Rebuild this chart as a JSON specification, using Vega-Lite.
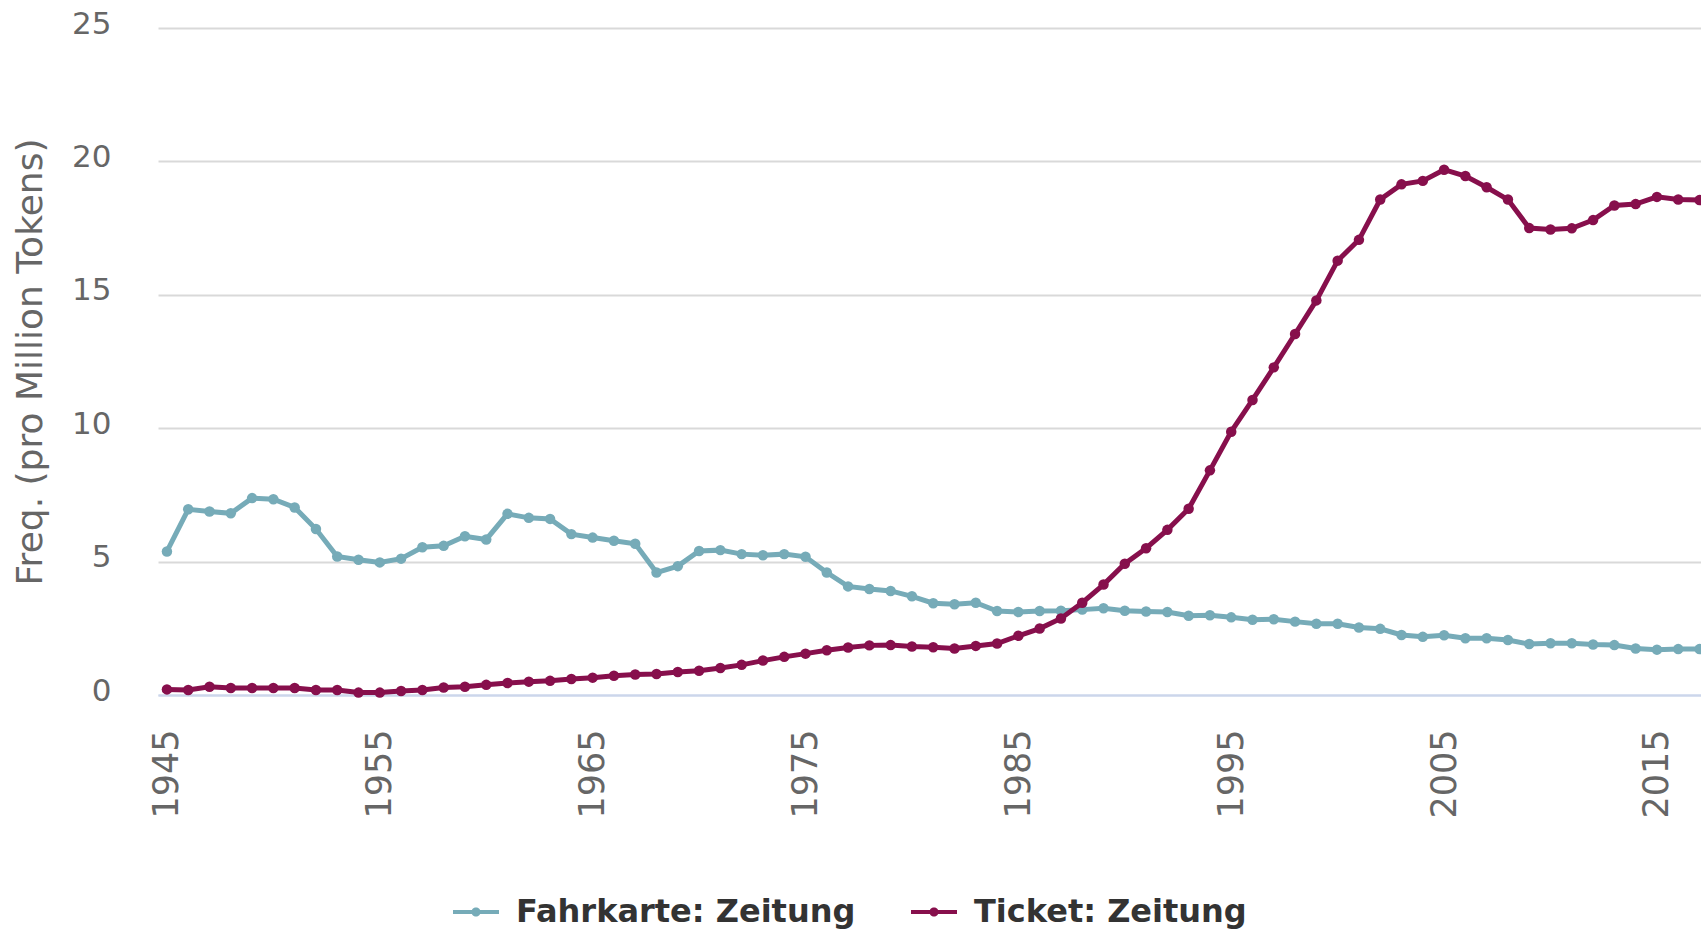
{
  "$schema": "https://vega.github.io/schema/vega-lite/v6.json",
  "width": 1543,
  "height": 667,
  "autosize": {"type": "none"},
  "padding": {"left": 158, "top": 28, "right": 0, "bottom": 236},
  "background": "white",
  "config": {"view": {"stroke": null}, "font": "DejaVu Sans"},
  "datasets": {
    "fahrkarte": [
      {"year":1945,"value":5.38},{"year":1946,"value":6.96},{"year":1947,"value":6.88},{"year":1948,"value":6.81},{"year":1949,"value":7.38},
      {"year":1950,"value":7.34},{"year":1951,"value":7.03},{"year":1952,"value":6.22},{"year":1953,"value":5.19},{"year":1954,"value":5.07},
      {"year":1955,"value":4.97},{"year":1956,"value":5.11},{"year":1957,"value":5.54},{"year":1958,"value":5.59},{"year":1959,"value":5.95},
      {"year":1960,"value":5.83},{"year":1961,"value":6.79},{"year":1962,"value":6.64},{"year":1963,"value":6.60},{"year":1964,"value":6.03},
      {"year":1965,"value":5.90},{"year":1966,"value":5.78},{"year":1967,"value":5.67},{"year":1968,"value":4.59},{"year":1969,"value":4.83},
      {"year":1970,"value":5.40},{"year":1971,"value":5.43},{"year":1972,"value":5.28},{"year":1973,"value":5.24},{"year":1974,"value":5.28},
      {"year":1975,"value":5.18},{"year":1976,"value":4.59},{"year":1977,"value":4.07},{"year":1978,"value":3.97},{"year":1979,"value":3.90},
      {"year":1980,"value":3.70},{"year":1981,"value":3.44},{"year":1982,"value":3.40},{"year":1983,"value":3.46},{"year":1984,"value":3.15},
      {"year":1985,"value":3.11},{"year":1986,"value":3.15},{"year":1987,"value":3.16},{"year":1988,"value":3.20},{"year":1989,"value":3.25},
      {"year":1990,"value":3.16},{"year":1991,"value":3.13},{"year":1992,"value":3.11},{"year":1993,"value":2.97},{"year":1994,"value":2.99},
      {"year":1995,"value":2.91},{"year":1996,"value":2.82},{"year":1997,"value":2.84},{"year":1998,"value":2.75},{"year":1999,"value":2.67},
      {"year":2000,"value":2.67},{"year":2001,"value":2.53},{"year":2002,"value":2.48},{"year":2003,"value":2.25},{"year":2004,"value":2.18},
      {"year":2005,"value":2.24},{"year":2006,"value":2.13},{"year":2007,"value":2.13},{"year":2008,"value":2.06},{"year":2009,"value":1.91},
      {"year":2010,"value":1.94},{"year":2011,"value":1.94},{"year":2012,"value":1.89},{"year":2013,"value":1.87},{"year":2014,"value":1.74},
      {"year":2015,"value":1.70},{"year":2016,"value":1.72},{"year":2017,"value":1.72}
    ],
    "ticket": [
      {"year":1945,"value":0.21},{"year":1946,"value":0.19},{"year":1947,"value":0.31},{"year":1948,"value":0.26},{"year":1949,"value":0.26},
      {"year":1950,"value":0.26},{"year":1951,"value":0.26},{"year":1952,"value":0.19},{"year":1953,"value":0.19},{"year":1954,"value":0.09},
      {"year":1955,"value":0.09},{"year":1956,"value":0.15},{"year":1957,"value":0.19},{"year":1958,"value":0.28},{"year":1959,"value":0.31},
      {"year":1960,"value":0.38},{"year":1961,"value":0.45},{"year":1962,"value":0.50},{"year":1963,"value":0.53},{"year":1964,"value":0.60},
      {"year":1965,"value":0.65},{"year":1966,"value":0.72},{"year":1967,"value":0.77},{"year":1968,"value":0.79},{"year":1969,"value":0.86},
      {"year":1970,"value":0.91},{"year":1971,"value":1.01},{"year":1972,"value":1.13},{"year":1973,"value":1.29},{"year":1974,"value":1.43},
      {"year":1975,"value":1.55},{"year":1976,"value":1.68},{"year":1977,"value":1.78},{"year":1978,"value":1.86},{"year":1979,"value":1.87},
      {"year":1980,"value":1.82},{"year":1981,"value":1.79},{"year":1982,"value":1.74},{"year":1983,"value":1.84},{"year":1984,"value":1.93},
      {"year":1985,"value":2.22},{"year":1986,"value":2.49},{"year":1987,"value":2.87},{"year":1988,"value":3.46},{"year":1989,"value":4.14},
      {"year":1990,"value":4.92},{"year":1991,"value":5.50},{"year":1992,"value":6.19},{"year":1993,"value":6.98},{"year":1994,"value":8.42},
      {"year":1995,"value":9.87},{"year":1996,"value":11.06},{"year":1997,"value":12.28},{"year":1998,"value":13.53},{"year":1999,"value":14.79},
      {"year":2000,"value":16.28},{"year":2001,"value":17.06},{"year":2002,"value":18.57},{"year":2003,"value":19.14},{"year":2004,"value":19.27},
      {"year":2005,"value":19.69},{"year":2006,"value":19.45},{"year":2007,"value":19.03},{"year":2008,"value":18.57},{"year":2009,"value":17.50},
      {"year":2010,"value":17.45},{"year":2011,"value":17.49},{"year":2012,"value":17.80},{"year":2013,"value":18.35},{"year":2014,"value":18.40},
      {"year":2015,"value":18.67},{"year":2016,"value":18.57},{"year":2017,"value":18.55}
    ]
  },
  "layer": [
    {
      "data": {"name": "fahrkarte"},
      "transform": [{"calculate": "'Fahrkarte: Zeitung'", "as": "series"}],
      "mark": {"type": "line", "strokeWidth": 5, "point": {"filled": true, "size": 110, "opacity": 1}},
      "encoding": {
        "x": {"field": "year", "type": "quantitative"},
        "y": {"field": "value", "type": "quantitative"},
        "color": {"field": "series", "type": "nominal"}
      }
    },
    {
      "data": {"name": "ticket"},
      "transform": [{"calculate": "'Ticket: Zeitung'", "as": "series"}],
      "mark": {"type": "line", "strokeWidth": 5, "point": {"filled": true, "size": 110, "opacity": 1}},
      "encoding": {
        "x": {"field": "year", "type": "quantitative"},
        "y": {"field": "value", "type": "quantitative"},
        "color": {"field": "series", "type": "nominal"}
      }
    }
  ],
  "resolve": {"scale": {"x": "shared", "y": "shared", "color": "shared"}},
  "encoding": {
    "x": {
      "field": "year", "type": "quantitative",
      "scale": {"domain": [1944.58, 2017.07], "nice": false, "zero": false},
      "axis": {
        "title": null, "values": [1945,1955,1965,1975,1985,1995,2005,2015], "format": "d",
        "labelAngle": 270, "labelAlign": "right", "labelBaseline": "middle",
        "labelPadding": 34, "labelFontSize": 35, "labelColor": "#666666",
        "ticks": false, "tickSize": 0, "grid": false, "domainColor": "#ccd6eb", "domainWidth": 2,
        "labelFlush": false, "labelOverlap": false
      }
    },
    "y": {
      "field": "value", "type": "quantitative",
      "scale": {"domain": [0, 25], "nice": false},
      "axis": {
        "title": "Freq. (pro Million Tokens)", "values": [0,5,10,15,20,25],
        "labelFontSize": 31, "labelColor": "#666666", "labelPadding": 47, "labelOffset": -4,
        "ticks": false, "tickSize": 0, "domain": false,
        "gridColor": {"condition": {"test": "datum.value === 0", "value": "#ccd6eb"}, "value": "#d9d9d9"},
        "gridWidth": 2,
        "titleFontSize": 36, "titleFontWeight": "normal", "titleColor": "#666666",
        "titleX": -128, "titleY": 333.5, "titleAngle": 270, "titleAlign": "center", "titleBaseline": "middle"
      }
    },
    "color": {
      "field": "series", "type": "nominal",
      "scale": {"domain": ["Fahrkarte: Zeitung", "Ticket: Zeitung"], "range": ["#76abb8", "#870f4c"]},
      "legend": {
        "title": null, "orient": "none", "legendX": 295, "legendY": 861, "direction": "horizontal",
        "symbolType": "M-1,-0.087L1,-0.087L1,0.087L-1,0.087Z M-0.2,0A0.2,0.2,0,1,1,0.2,0A0.2,0.2,0,1,1,-0.2,0Z",
        "symbolSize": 2116, "symbolStrokeWidth": 0, "symbolOpacity": 1,
        "labelFontSize": 32, "labelFontWeight": "bold", "labelColor": "#333333",
        "labelOffset": 17, "columnPadding": 55, "padding": 0, "labelLimit": 1000,
        "encode": {"symbols": {"update": {"fill": {"scale": "color", "field": "value"}, "fillOpacity": {"value": 1}, "stroke": {"value": "transparent"}}}}
      }
    }
  }
}
